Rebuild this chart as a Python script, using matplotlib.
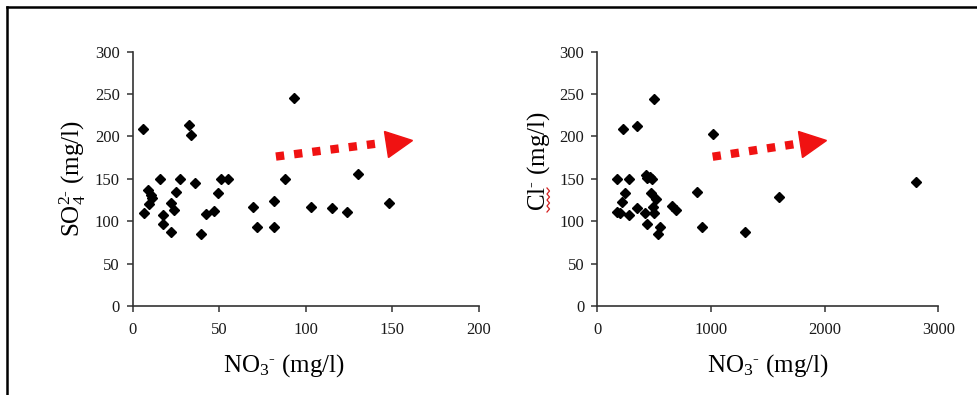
import matplotlib
matplotlib.use('Agg')
import matplotlib.pyplot as plt
from matplotlib.lines import Line2D
from matplotlib.markers import MarkerStyle
from matplotlib.transforms import Affine2D

plt.rcParams['font.family'] = ['Liberation Serif', 'DejaVu Serif']
plt.rcParams['mathtext.fontset'] = 'custom'
plt.rcParams['mathtext.rm'] = 'Liberation Serif'
plt.rcParams['mathtext.it'] = 'Liberation Serif:italic'
plt.rcParams['mathtext.default'] = 'regular'

# left panel: NO3 vs SO4
no3_a = [5.8, 32.5, 33.5, 15.8, 27.3, 36.2, 50.8, 55.2, 8.7, 10.4, 11.0, 9.6,
         6.5, 24.8, 22.1, 23.7, 49.5, 17.5, 17.5, 21.9, 42.3, 47.1, 39.4, 69.5,
         71.6, 93.3, 87.9, 129.9, 81.6, 103.0, 114.9, 123.9, 148.0, 81.6]
so4 = [208.8, 213.5, 201.7, 149.8, 149.8, 145.5, 149.4, 149.4, 136.8, 131.0, 127.0, 120.3,
       110.0, 134.5, 121.0, 113.2, 133.7, 107.3, 96.3, 86.9, 108.5, 112.0, 84.5, 117.1,
       93.6, 245.0, 150.2, 155.7, 124.2, 117.1, 115.2, 110.9, 121.9, 93.6]

# right panel: NO3 vs Cl
no3_b = [501, 223, 352, 1018, 176, 281, 428, 440, 479, 460, 246, 470, 217, 516,
         493, 347, 655, 690, 874, 171, 201, 281, 420, 502, 435, 552, 536, 921,
         1601, 1302, 2801]
cl = [244.5, 208.4, 212.7, 202.9, 149.8, 149.8, 154.5, 150.6, 149.8, 152.0, 132.9, 133.7, 122.3, 125.8,
      117.1, 116.0, 118.0, 113.2, 134.8, 111.2, 109.3, 107.3, 109.3, 110.0, 96.7, 93.5, 84.9, 93.5,
      129.0, 86.9, 146.0]

xticks_a = [0, 50, 100, 150, 200]
xticks_b = [0, 1000, 2000, 3000]
yticks = [0, 50, 100, 150, 200, 250, 300]

RED = '#f01212'
AXC = '#333333'
HY = '\u2010'  # short hyphen for the ion charges


def style(ax, xticks, xmax):
    ax.set_xlim(0, xmax)
    ax.set_ylim(0, 300)
    ax.set_xticks(xticks)
    ax.set_yticks(yticks)
    for s in ['top', 'right']:
        ax.spines[s].set_visible(False)
    for s in ['left', 'bottom']:
        ax.spines[s].set_color(AXC)
        ax.spines[s].set_linewidth(1.2)
    ax.tick_params(direction='out', length=4.3, width=1.1, color=AXC,
                   labelsize=12, labelcolor='#1a1a1a')
    ax.tick_params(axis='x', pad=7)
    ax.tick_params(axis='y', pad=5)


def trend_arrow(ax, x0, y0, x1, y1, hx, hy):
    ax.plot([x0, x1], [y0, y1], color=RED, lw=6, dashes=(1.0, 1.2),
            dash_capstyle='butt', clip_on=False)
    head = MarkerStyle('>', transform=Affine2D().rotate_deg(7))
    ax.plot([hx], [hy], marker=head, ms=19, color=RED, mec=RED,
            linestyle='none', clip_on=False)


fig = plt.figure(figsize=(9.78, 3.95), dpi=100)
ax1 = fig.add_axes([0.1357, 0.2253, 0.3541, 0.6438])
ax2 = fig.add_axes([0.6107, 0.2253, 0.3487, 0.6438])

style(ax1, xticks_a, 200)
style(ax2, xticks_b, 3000)

ax1.plot(no3_a, so4, 'D', color='black', ms=5.5, linestyle='none', clip_on=False)
ax2.plot(no3_b, cl, 'D', color='black', ms=5.5, linestyle='none', clip_on=False)

trend_arrow(ax1, 82.7, 176.3, 139.9, 191.3, 153.6, 193.8)
trend_arrow(ax2, 1015, 176.1, 1739, 191.0, 1900, 193.4)

no3_label = 'NO$_3$$^{' + HY + '}$ (mg/l)'
ax1.set_xlabel(no3_label, fontsize=18)
ax1.xaxis.set_label_coords(0.437, -0.182)
ax1.set_ylabel('SO$_4^{2' + HY + '}$ (mg/l)', fontsize=18)
ax1.yaxis.set_label_coords(-0.130, 0.5)

ax2.set_xlabel(no3_label, fontsize=18)
ax2.xaxis.set_label_coords(0.5, -0.182)
ax2.set_ylabel('Cl$^{' + HY + '}$ (mg/l)', fontsize=18)
ax2.yaxis.set_label_coords(-0.133, 0.57)

# red spell-check squiggle under "Cl"
W, H = 978.0, 395.0
zx, zy = [], []
for k in range(9):
    zx.append((548.0 + (1.5 if k % 2 else -1.0)) / W)
    zy.append(1 - (188 + k * 3.0) / H)
fig.add_artist(Line2D(zx, zy, color='#d42020', lw=0.9, transform=fig.transFigure))

# frame lines along the top and left of the picture
fig.add_artist(Line2D([7.5 / W, 1.0], [1 - 6.5 / H, 1 - 6.5 / H], color='black',
                      lw=1.8, transform=fig.transFigure))
fig.add_artist(Line2D([7.5 / W, 7.5 / W], [0.0, 1 - 6.5 / H], color='black',
                      lw=1.8, transform=fig.transFigure))

fig.savefig('out.png', dpi=100)
